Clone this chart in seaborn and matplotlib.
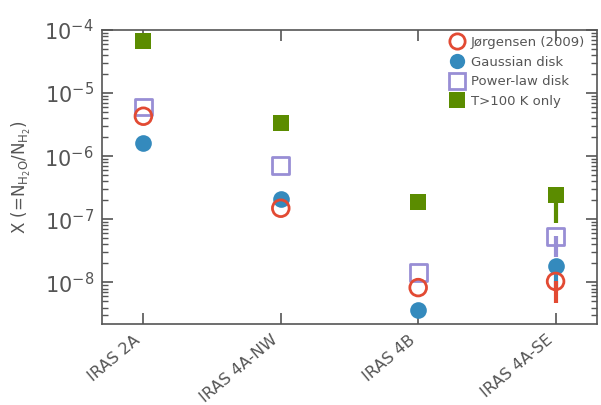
import numpy as np
import pandas as pd
import matplotlib
matplotlib.use("Agg")
import matplotlib.pyplot as plt
from matplotlib.ticker import FixedLocator, NullFormatter
import seaborn as sns

sources = ["IRAS 2A", "IRAS 4A-NW", "IRAS 4B", "IRAS 4A-SE"]
jorgensen = [4.3e-6, 1.5e-7, 8.3e-9, 1.04e-8]
gaussian = [1.6e-6, 2.1e-7, 3.6e-9, 1.85e-8]
powerlaw = [6.0e-6, 7.2e-7, 1.45e-8, 5.4e-8]
hot_only = [6.7e-5, 3.3e-6, 1.9e-7, 2.4e-7]

# lower error bars, only IRAS 4A-SE has them
jorgensen_lo = [0, 0, 0, 4.7e-9]
gaussian_lo = [0, 0, 0, 7.4e-9]
powerlaw_lo = [0, 0, 0, 2.5e-8]
hot_only_lo = [0, 0, 0, 8.7e-8]

y_exponents = [-8, -7, -6, -5, -4]

sns.set_style("ticks")
plt.rcParams["font.family"] = ["DejaVu Sans"]
grey = "#555555"
plt.rcParams.update({
    "text.color": grey, "axes.labelcolor": grey,
    "xtick.color": grey, "ytick.color": grey, "axes.edgecolor": grey,
})

fig = plt.figure(figsize=(6.01, 4.05), dpi=100)
ax = fig.add_axes([0.17, 0.2, 0.823, 0.726])
ax.set_yscale("log")

x = np.arange(len(sources))
series = [
    ("T>100 K only", hot_only, hot_only_lo, "s", "#5b8c00", True, 12),
    ("Power-law disk", powerlaw, powerlaw_lo, "s", "#988ed5", False, 12),
    ("Gaussian disk", gaussian, gaussian_lo, "o", "#348abd", True, 12),
    ("Jørgensen (2009)", jorgensen, jorgensen_lo, "o", "#e24a33", False, 12),
]

handles = {}
for label, vals, lo, mk, col, filled, ms in series:
    vals = np.array(vals)
    lo = np.array(lo)
    yerr = np.vstack([vals - np.where(lo > 0, lo, vals), np.zeros_like(vals)])
    ax.errorbar(x, vals, yerr=yerr, fmt="none", ecolor=col, elinewidth=3,
                capsize=0, zorder=2)
    df = pd.DataFrame({"x": x, "y": vals})
    if filled:
        sns.scatterplot(data=df, x="x", y="y", ax=ax, marker=mk, s=ms ** 2,
                        color=col, edgecolor=col, linewidth=0, zorder=3)
    else:
        sns.scatterplot(data=df, x="x", y="y", ax=ax, marker=mk, s=ms ** 2,
                        facecolor="none", edgecolor=col, linewidth=2, zorder=3)
    handles[label] = plt.Line2D([], [], ls="none", marker=mk, ms=11,
                                mfc=col if filled else "none", mec=col,
                                mew=0 if filled else 2)

ax.set_ylim(2.2e-9, 1e-4)
ax.set_xlim(-0.3, 3.3)

# major decades with labels set directly on the tick texts
majors = [10.0 ** e for e in y_exponents]
ax.set_yticks(majors, [rf"$10^{{{e}}}$" for e in y_exponents], fontsize=15)
minor = (10.0 ** np.arange(-10, -3)[:, None] * np.arange(2, 10)[None, :]).ravel()
ax.yaxis.set_minor_locator(FixedLocator(minor))
ax.yaxis.set_minor_formatter(NullFormatter())

ax.set_xticks(x, sources, rotation=40, ha="right", fontsize=11.5)
ax.tick_params(axis="x", pad=6)
ax.tick_params(which="both", direction="in", top=True, right=True)
ax.tick_params(which="major", length=8, width=1.2)
ax.tick_params(which="minor", length=4, width=1.0)
ax.tick_params(axis="y", which="major", pad=6)
ax.set_xlabel("")
ax.set_ylabel(r"X (=N$_{\rm H_2O}$/N$_{\rm H_2}$)", fontsize=12, labelpad=8)
for s in ax.spines.values():
    s.set_linewidth(1.2)

order = ["Jørgensen (2009)", "Gaussian disk", "Power-law disk", "T>100 K only"]
ax.legend([handles[k] for k in order], order, loc="upper right", frameon=False,
          fontsize=9.5, handlelength=1.2, handletextpad=0.4, labelspacing=0.5,
          bbox_to_anchor=(1.0, 1.02))

fig.savefig("out.png", dpi=100)
